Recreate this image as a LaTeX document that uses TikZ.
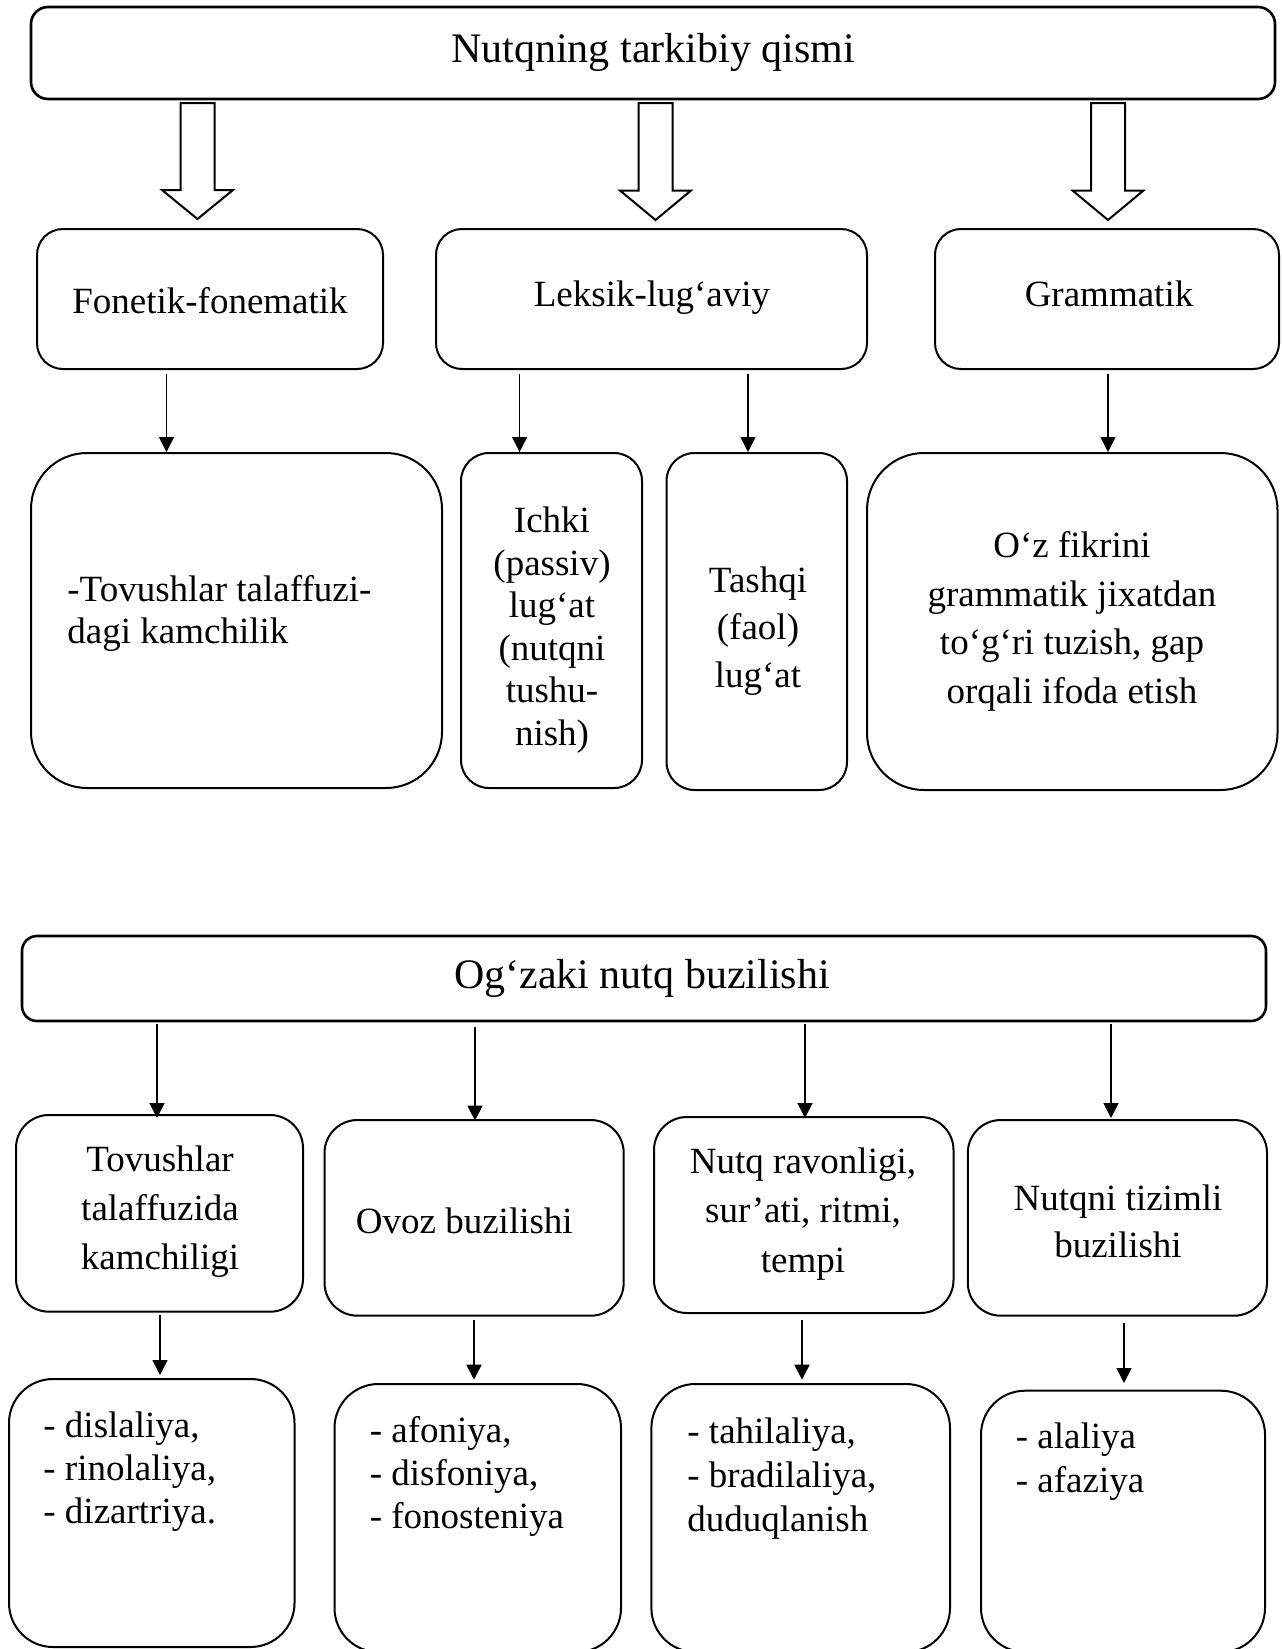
\documentclass[tikz,border=0pt]{standalone}
\usepackage{fontspec}
\setmainfont{Liberation Serif}
\usetikzlibrary{arrows.meta}
\tikzset{
  boxst/.style={draw, line width=1pt, inner sep=0pt},
  titlest/.style={line width=1.3pt},
  txt/.style={inner sep=0pt, font=\fontsize{18.5}{21}\selectfont},
  fs/.style={font=\fontsize{18.5}{#1}\selectfont},
  tfs/.style={font=\fontsize{21}{24}\selectfont},
  arr/.style={line width=0.8pt, -{Triangle[length=7.5pt,width=7.5pt]}},
  hollow/.style={draw, line width=1pt, line join=miter},
}
% name, x1, y1, x2, y2, radius (px), extra options
\newcommand\rbox[7]{%
  \node[boxst, rounded corners={#6*0.5pt}, minimum width={(#4-#2)*0.5pt},
        minimum height={(#5-#3)*0.5pt}, #7] (#1) at ({(#2+#4)/2},{(#3+#5)/2}) {};}
% centre x, top, head base, tip
\newcommand\hollowarrow[4]{%
  \draw[hollow] ({#1-17},#2) -- ({#1-17},#3) -- ({#1-35.5},#3) -- (#1,#4)
     -- ({#1+35.5},#3) -- ({#1+17},#3) -- ({#1+17},#2) -- cycle;}
\begin{document}
\begin{tikzpicture}[x=0.5pt,y=-0.5pt]
\clip (0,0) rectangle (1281,1649);

% ---------------- upper diagram ----------------
\rbox{t1}{31}{7}{1275}{99}{17}{titlest}
\node[txt, tfs, anchor=base] (t1T) at (653,62) {Nutqning tarkibiy qismi};

\rbox{f1}{37}{229}{383}{369}{26}{}
\rbox{l1}{436}{229}{867}{369}{26}{}
\rbox{g1}{935}{229}{1279}{369}{26}{}
\node[txt, anchor=base] (f1T) at (210,313) {Fonetik-fonematik};
\node[txt, anchor=base] (l1T) at (652,306) {Leksik-lug‘aviy};
\node[txt, anchor=base] (g1T) at (1109,306) {Grammatik};

\hollowarrow{197.5}{103}{190}{219}
\hollowarrow{655.5}{103}{190.5}{220}
\hollowarrow{1108}{103}{190.5}{220}

\rbox{k1}{31}{453}{442}{788}{56}{}
\rbox{i1}{461}{453}{642}{788}{28}{}
\rbox{s1}{666.5}{453}{847}{790}{28}{}
\rbox{o1}{867}{453}{1277.5}{790}{57}{}

\node[txt, fs=21, anchor=north west, align=left] (k1T) at (67,571.6)
  {\strut -Tovushlar talaffuzi-\\\strut dagi kamchilik};
\node[txt, fs=21.3, anchor=north, align=center] (i1T) at (552,502.2)
  {\strut Ichki\\\strut (passiv)\\\strut lug‘at\\\strut (nutqni\\\strut tushu-\\\strut nish)};
\node[txt, fs=23.75, anchor=north, align=center] (s1T) at (758,558.8)
  {\strut Tashqi\\\strut (faol)\\\strut lug‘at};
\node[txt, fs=24.35, anchor=north, align=center] (o1T) at (1072,522.9)
  {\strut O‘z fikrini\\\strut grammatik jixatdan\\\strut to‘g‘ri tuzish, gap\\\strut orqali ifoda etish};

\coordinate (xa) at (166.5,0);
\coordinate (xb) at (519.6,0);
\coordinate (xc) at (748,0);
\coordinate (xd) at (1108,0);
\draw[arr] ([yshift=-2pt]f1.south -| xa) -- (k1.north -| xa);
\draw[arr] ([yshift=-2pt]l1.south -| xb) -- (i1.north -| xb);
\draw[arr] ([yshift=-2pt]l1.south -| xc) -- (s1.north -| xc);
\draw[arr] ([yshift=-2pt]g1.south -| xd) -- (o1.north -| xd);

% ---------------- lower diagram ----------------
\rbox{t2}{22}{936}{1266}{1021}{15}{titlest}
\node[txt, tfs, anchor=base] (t2T) at (642,988) {Og‘zaki nutq buzilishi};

\rbox{b1}{16}{1115}{303}{1311.7}{33}{}
\rbox{b2}{324.5}{1120}{623.7}{1315.7}{33}{}
\rbox{b3}{654}{1117}{953.5}{1313}{33}{}
\rbox{b4}{967.8}{1120}{1267}{1315.7}{33}{}

\node[txt, fs=24.5, anchor=north, align=center] (b1T) at (160,1136.4)
  {\strut Tovushlar\\\strut talaffuzida\\\strut kamchiligi};
\node[txt, anchor=base west] (b2T) at (355.5,1233) {Ovoz buzilishi};
\node[txt, fs=24.75, anchor=north, align=center] (b3T) at (803,1138.4)
  {\strut Nutq ravonligi,\\\strut sur’ati, ritmi,\\\strut tempi};
\node[txt, fs=23.5, anchor=north, align=center] (b4T) at (1118,1177.1)
  {\strut Nutqni tizimli\\\strut buzilishi};

\rbox{d1}{9}{1379}{294.5}{1647}{44}{}
\rbox{d2}{334.5}{1384}{621}{1652}{44}{}
\rbox{d3}{651.4}{1384}{950}{1652}{44}{}
\rbox{d4}{981}{1390.7}{1265}{1652}{44}{}

\node[txt, fs=21.5, anchor=north west, align=left] (d1T) at (43,1406.6)
  {\strut - dislaliya,\\\strut - rinolaliya,\\\strut - dizartriya.};
\node[txt, fs=21.5, anchor=north west, align=left] (d2T) at (369.4,1411.6)
  {\strut - afoniya,\\\strut - disfoniya,\\\strut - fonosteniya};
\node[txt, fs=22, anchor=north west, align=left] (d3T) at (687,1412.2)
  {\strut - tahilaliya,\\\strut - bradilaliya,\\\strut duduqlanish};
\node[txt, fs=22, anchor=north west, align=left] (d4T) at (1015.5,1417.2)
  {\strut - alaliya\\\strut - afaziya};

\coordinate (ya) at (157,0);
\coordinate (yb) at (475,0);
\coordinate (yc) at (805,0);
\coordinate (yd) at (1111,0);
\draw[arr] ([yshift=-1pt]t2.south -| ya) -- ([yshift=-2pt]b1.north -| ya);
\draw[arr] ([yshift=-2.5pt]t2.south -| yb) -- ([yshift=-0.8pt]b2.north -| yb);
\draw[arr] ([yshift=-1pt]t2.south -| yc) -- ([yshift=-1pt]b3.north -| yc);
\draw[arr] ([yshift=-1pt]t2.south -| yd) -- ([yshift=0.5pt]b4.north -| yd);

\coordinate (za) at (160,0);
\coordinate (zb) at (474,0);
\coordinate (zc) at (802,0);
\coordinate (zd) at (1124,0);
\draw[arr] ([yshift=-1.15pt]b1.south -| za) -- ([yshift=1.5pt]d1.north -| za);
\draw[arr] ([yshift=-1.65pt]b2.south -| zb) -- ([yshift=1.65pt]d2.north -| zb);
\draw[arr] ([yshift=-3pt]b3.south -| zc) -- ([yshift=1.65pt]d3.north -| zc);
\draw[arr] ([yshift=-3.15pt]b4.south -| zd) -- ([yshift=3.35pt]d4.north -| zd);
\end{tikzpicture}
\end{document}
